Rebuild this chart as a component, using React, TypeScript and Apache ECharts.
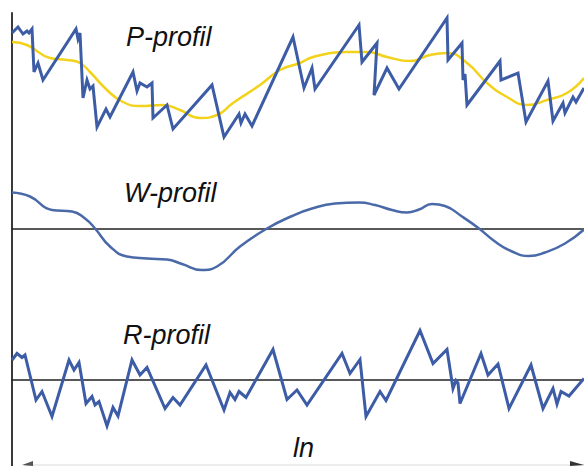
import React, { useEffect, useRef } from "react";
import * as echarts from "echarts";

// Profile length positions (x) and heights (y)
const pProfile: [number, number][] = [
  [0, 120], [6, 126], [11, 119], [15, 122], [17, 120], [20, 124], [22, 81], [26, 90], [31, 73],
  [64, 124], [66, 114], [68, 120], [71, 55], [75, 73], [78, 64], [81, 67], [85, 26], [94, 44],
  [98, 36], [121, 81], [125, 62], [128, 70], [135, 66], [140, 70], [141, 35], [155, 48], [161, 24],
  [200, 68], [212, 16], [227, 39], [229, 30], [233, 39], [240, 27], [281, 116], [292, 65], [300, 85],
  [303, 64], [347, 128], [350, 91], [365, 110], [362, 58], [375, 85], [387, 64], [435, 135],
  [436, 93], [450, 110], [451, 73], [453, 79], [455, 48], [488, 92], [489, 73], [506, 80],
  [514, 31], [536, 72], [541, 32], [551, 50], [553, 40], [561, 56], [564, 51], [572, 65],
];

const pMean: [number, number][] = [
  [0, 111], [15, 108], [38, 95], [55, 93], [68, 90], [78, 81], [95, 63], [111, 51], [128, 47],
  [151, 48], [168, 43], [188, 35], [205, 38], [221, 50], [248, 68], [268, 83], [288, 90],
  [301, 96], [335, 101], [355, 101], [375, 96], [398, 92], [418, 98], [435, 100], [455, 90],
  [475, 70], [495, 56], [515, 48], [535, 53], [555, 60], [572, 75],
];

const wProfile: [number, number][] = [
  [0, 36], [18, 32], [40, 18.5], [60, 17], [73, 10], [83, 0], [98, -18], [115, -28], [135, -30],
  [155, -31], [170, -35.5], [190, -41.5], [205, -38], [228, -18], [255, 0], [280, 12.5], [300, 20],
  [323, 25], [347, 26], [363, 23.5], [380, 18.5], [395, 16], [407, 19], [420, 24.5], [433, 22.5],
  [450, 12], [467, 0], [483, -13], [500, -23], [517, -27.5], [533, -24], [553, -15], [572, -1],
];

const rProfile: [number, number][] = [
  [0, 19.5], [5, 26], [10, 22], [13, 24.5], [24, -20.5], [30, -12], [40, -37], [57, 19.5], [62, 9.5],
  [67, 17], [74, -24], [80, -17], [83, -25.5], [87, -22], [95, -46.5], [101, -28], [106, -36.5],
  [120, 19.5], [128, 4.5], [135, 12], [153, -29], [161, -18], [168, -25.5], [194, 14.5], [212, -30.5],
  [218, -13], [223, -20], [227, -12], [234, -18], [261, 30], [275, -20], [285, -10.5], [295, -25.5],
  [330, 26], [338, 6], [348, 20], [354, -37], [368, -12], [374, -21], [408, 49], [421, 16], [435, 30],
  [441, -9], [444, -1], [446, -3.5], [448, -24], [469, 26], [476, 4.5], [486, 15.5], [497, -29],
  [519, 14.5], [531, -29], [541, -9], [545, -24.5], [549, -12], [557, -16.5], [572, 1],
];

const labels = ["P-profil", "W-profil", "R-profil", "ln"];

const BLUE = "#3d5ca6";
const YELLOW = "#f2d21b";

export default function App() {
  const ref = useRef<HTMLDivElement>(null);
  useEffect(() => {
    if (!ref.current) return;
    const chart = echarts.init(ref.current, undefined, { renderer: "svg" });
    const yAxisBase = {
      axisLine: { show: true, lineStyle: { color: "#3a3a3a", width: 2 } },
      axisTick: { show: false },
      axisLabel: { show: false },
      splitLine: { show: false },
    };
    const xAxisBase = {
      type: "value" as const,
      min: 0,
      max: 572,
      axisTick: { show: false },
      axisLabel: { show: false },
      splitLine: { show: false },
    };
    const font = 'italic 27px "Liberation Sans", Arial, sans-serif';
    const textEl = (t: string, x: number, y: number) => ({
      type: "text",
      x,
      y,
      style: { text: t, font, fill: "#111", verticalAlign: "middle" },
    });
    chart.setOption({
      animation: false,
      grid: [
        { left: 12, right: 0, top: 13, height: 140 },
        { left: 12, right: 0, top: 153, height: 147 },
        { left: 12, right: 0, top: 300, height: 166 },
      ],
      xAxis: [
        { ...xAxisBase, gridIndex: 0, axisLine: { show: false } },
        { ...xAxisBase, gridIndex: 1, axisLine: { show: true, onZero: true, lineStyle: { color: "#222", width: 1.5 } } },
        { ...xAxisBase, gridIndex: 2, axisLine: { show: true, onZero: true, lineStyle: { color: "#222", width: 1.5 } } },
      ],
      yAxis: [
        { ...yAxisBase, type: "value", gridIndex: 0, min: 0, max: 140 },
        { ...yAxisBase, type: "value", gridIndex: 1, min: -71.5, max: 75.5 },
        { ...yAxisBase, type: "value", gridIndex: 2, min: -86.5, max: 79.5 },
      ],
      series: [
        {
          type: "line", xAxisIndex: 0, yAxisIndex: 0, data: pMean, smooth: 0.5, symbol: "none",
          lineStyle: { color: YELLOW, width: 2.5 },
        },
        {
          type: "line", xAxisIndex: 0, yAxisIndex: 0, data: pProfile, symbol: "none",
          lineStyle: { color: BLUE, width: 3, join: "miter" },
        },
        {
          type: "line", xAxisIndex: 1, yAxisIndex: 1, data: wProfile, smooth: 0.5, symbol: "none",
          lineStyle: { color: "#4a69a8", width: 2.5 },
        },
        {
          type: "line", xAxisIndex: 2, yAxisIndex: 2, data: rProfile, symbol: "none",
          lineStyle: { color: BLUE, width: 3, join: "miter" },
        },
      ],
      graphic: [
        textEl(labels[0], 126, 37),
        textEl(labels[1], 124, 193),
        textEl(labels[2], 123, 335),
        textEl(labels[3], 293, 448),
        { type: "line", shape: { x1: 24, y1: 465, x2: 584, y2: 465 }, style: { stroke: "#dadada", lineWidth: 1 } },
        { type: "polygon", shape: { points: [[22, 465], [33, 461], [33, 466]] }, style: { fill: "#555" } },
        { type: "polygon", shape: { points: [[584, 465], [570, 461], [570, 466]] }, style: { fill: "#333" } },
      ],
    });
    return () => chart.dispose();
  }, []);
  return (
    <div
      ref={ref}
      style={{ position: "fixed", left: 0, top: 0, width: 584, height: 466, background: "#fff" }}
    />
  );
}
